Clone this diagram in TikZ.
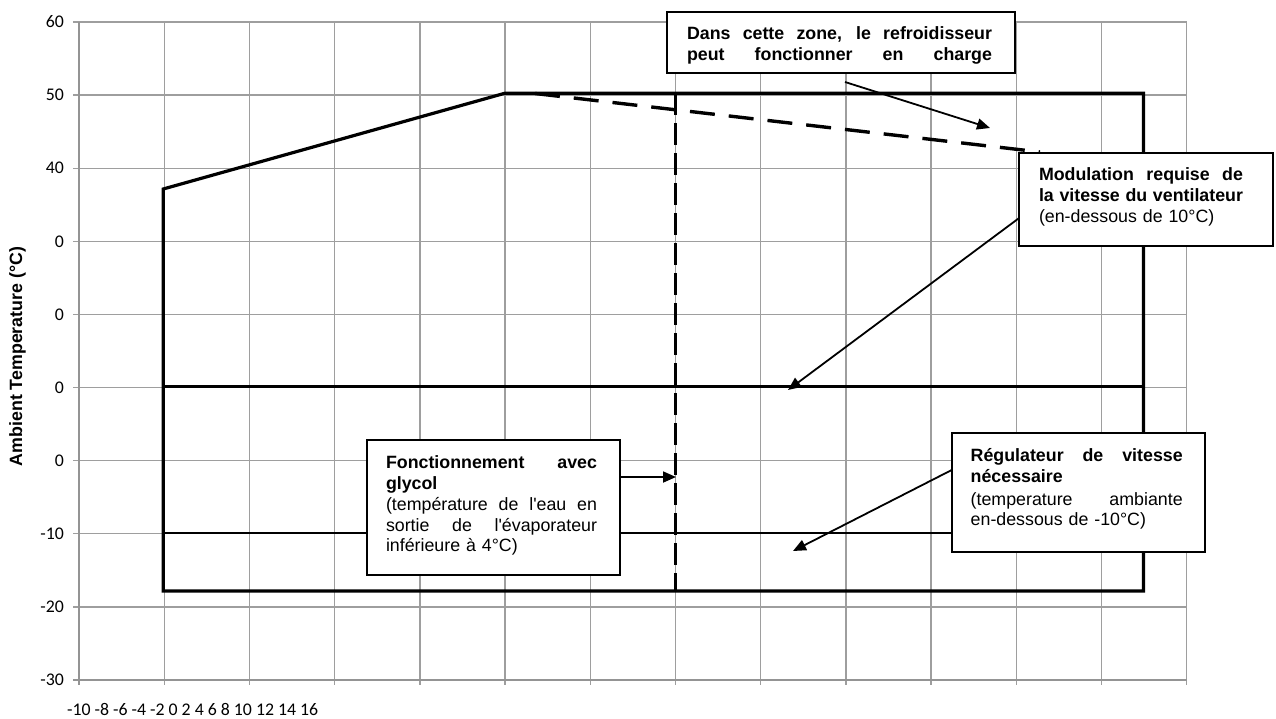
\documentclass[tikz,border=0pt]{standalone}
\usepackage{fontspec}
\setmainfont{Liberation Sans}
\newfontfamily\calfont{Carlito}
\usetikzlibrary{arrows.meta,calc}
\newcommand\JustLine[1]{\makebox[\linewidth][s]{\spaceskip=0pt\relax\xspaceskip=0pt\relax #1}}
\begin{document}
\begin{tikzpicture}[x=1pt,y=-1pt,
  gridl/.style={draw=black!38, line width=1.4},
  axisl/.style={draw=black!42, line width=2},
  env/.style={line width=3.2, line join=miter},
  midl/.style={line width=2.6},
  dashA/.style={line width=3.4, dash pattern=on 25pt off 14pt},
  dashB/.style={line width=3.4, dash pattern=on 22pt off 8pt},
  box/.style={draw, line width=1.8, fill=white, inner sep=0pt, outer sep=0pt},
  txt/.style={inner sep=0pt, outer sep=0pt, align=left, font=\fontsize{17.8}{21}\selectfont},
  lab/.style={inner sep=0pt, font=\calfont\fontsize{17.8}{20}\selectfont},
  arr/.style={line width=1.8, -{Triangle[length=13pt,width=11pt]}}
]
\useasboundingbox (0,0) rectangle (1276,718);
\fill[white] (0,0) rectangle (1276,718);
% grid
\foreach \k in {1,...,13} \draw[gridl] ({79+85.2*\k},22) -- ({79+85.2*\k},685);
\foreach \j in {0,...,8} \draw[gridl] (73,{22+73.1*\j}) -- (1187,{22+73.1*\j});
\draw[axisl] (79,22) -- (79,685);
\draw[axisl] (73,680) -- (1187,680);
% tick labels
\foreach \t [count=\j from 0] in {60,50,40,0,0,0,0,-10,-20,-30}
  \node[lab, anchor=east] (yl\j) at (64,{22+73.1*\j}) {\t};
\node[lab, anchor=west] (xl) at (67,709) {-10 -8 -6 -4 -2 0 2 4 6 8 10 12 14 16};
\node[inner sep=0pt, rotate=90, font=\bfseries\fontsize{17.8}{20}\selectfont] (ytitle) at (17.5,356.5) {Ambient Temperature (°C)};
% envelope
\draw[env] (163.2,189) -- (505,93.2) -- (1143.5,93.2) -- (1143.5,591) -- (163.2,591) -- cycle;
\draw[env] (163.2,386.6) -- (1143.5,386.6);
\draw[midl] (163.2,533) -- (1143.5,533);
\draw[dashA] (535,93.5) -- (1040,152);
\draw[dashB] (675.4,93) -- (675.4,591);
% boxes
\node[box, minimum width=348, minimum height=61, anchor=north west] (dans) at (667,12) {};
\node[txt, text width=305, anchor=base west] (danst) at (687,39)
  {\bfseries\JustLine{Dans cette zone, le refroidisseur}\\\JustLine{peut fonctionner en charge}};
\node[box, minimum width=254, minimum height=93, anchor=north west] (mod) at (1019,153) {};
\node[txt, text width=204, anchor=base west] (modt) at (1039,180.5)
  {\JustLine{\bfseries Modulation requise de}\\\JustLine{\bfseries la vitesse du ventilateur}\\(en-dessous de 10°C)};
\node[box, minimum width=253.3, minimum height=135, anchor=north west] (gly) at (366.7,440) {};
\node[txt, text width=211, anchor=base west, font=\fontsize{17.8}{20.9}\selectfont] (glyt) at (386,468.3)
  {\JustLine{\bfseries Fonctionnement avec}\\\textbf{glycol}\\\JustLine{(température de l\textquotesingle eau en}\\\JustLine{sortie de l\textquotesingle évaporateur}\\inférieure à 4°C)};
\node[box, minimum width=253.3, minimum height=118.4, anchor=north west] (reg) at (951.7,433.3) {};
\node[txt, text width=212, anchor=base west, font=\fontsize{17.8}{20.5}\selectfont] (regt) at (970.7,461.7)
  {\JustLine{\bfseries Régulateur de vitesse}\\\textbf{nécessaire}\\[2.5pt]\JustLine{(temperature ambiante}\\en-dessous de -10°C)};
% arrows
\coordinate (d1) at (845,82);
\coordinate (d2) at (990,128);
\coordinate (m2) at (788,390);
\coordinate (g2) at (676,477);
\coordinate (r2) at (793,551);
\draw[arr] (d1) -- (d2);
\draw[arr] ($(mod.north west)!0.70!(mod.south west)$) -- (m2);
\draw[arr] ($(gly.north east)!0.274!(gly.south east)$) -- (g2);
\draw[arr] ($(reg.north west)!0.31!(reg.south west)$) -- (r2);
\end{tikzpicture}
\end{document}
